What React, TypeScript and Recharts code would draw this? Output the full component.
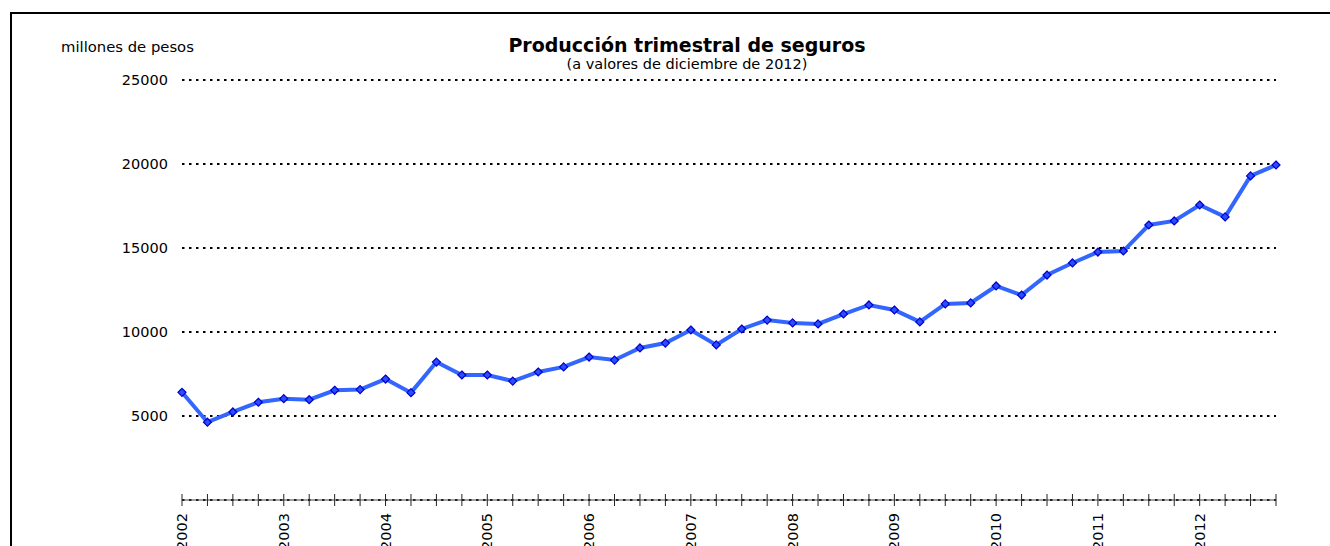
import React from 'react';
import { CartesianGrid, Line, LineChart, XAxis, YAxis } from 'recharts';

// quarters 2002 T1 .. 2012 T4
const quarters = [
  '2002 T1', '2002 T2', '2002 T3', '2002 T4',
  '2003 T1', '2003 T2', '2003 T3', '2003 T4',
  '2004 T1', '2004 T2', '2004 T3', '2004 T4',
  '2005 T1', '2005 T2', '2005 T3', '2005 T4',
  '2006 T1', '2006 T2', '2006 T3', '2006 T4',
  '2007 T1', '2007 T2', '2007 T3', '2007 T4',
  '2008 T1', '2008 T2', '2008 T3', '2008 T4',
  '2009 T1', '2009 T2', '2009 T3', '2009 T4',
  '2010 T1', '2010 T2', '2010 T3', '2010 T4',
  '2011 T1', '2011 T2', '2011 T3', '2011 T4',
  '2012 T1', '2012 T2', '2012 T3', '2012 T4',
];

// millones de pesos, a valores de diciembre de 2012
const produccion = [
  6410, 4630, 5240, 5820,
  6030, 5970, 6530, 6570,
  7200, 6390, 8210, 7440,
  7440, 7080, 7620, 7920,
  8510, 8330, 9050, 9340,
  10120, 9230, 10180, 10710,
  10540, 10480, 11070, 11610,
  11310, 10600, 11670, 11730,
  12740, 12200, 13390, 14110,
  14760, 14820, 16370, 16610,
  17560, 16850, 19290, 19940,
];

const yTicks = [5000, 10000, 15000, 20000, 25000];

const data = quarters.map((q, i) => ({ q, valor: produccion[i] }));

const FONT = '"DejaVu Sans", sans-serif';

const QuarterTick = (props: any) => {
  const { x, y, payload } = props;
  const label = String(payload.value).endsWith('T1') ? String(payload.value).slice(0, 4) : '';
  return (
    <g>
      <line x1={x} x2={x} y1={y - 6} y2={y + 6} stroke="#222" strokeWidth={1} />
      {label && (
        <text
          x={x}
          y={y + 13}
          transform={`rotate(-90, ${x}, ${y + 13})`}
          textAnchor="end"
          dy="0.35em"
          fontSize={14.5}
          fontFamily={FONT}
          fill="#000"
        >
          {label}
        </text>
      )}
    </g>
  );
};

const Diamond = (props: any) => {
  const { cx, cy } = props;
  if (cx == null || cy == null) return null;
  const r = 4;
  return (
    <polygon
      points={`${cx},${cy - r} ${cx + r},${cy} ${cx},${cy + r} ${cx - r},${cy}`}
      fill="#2a4dff"
      stroke="#0000c8"
      strokeWidth={1.2}
    />
  );
};

export default function App() {
  return (
    <div style={{ position: 'fixed', left: 0, top: 0, width: 1330, height: 546, overflow: 'hidden', background: '#fff', fontFamily: FONT }}>
      <div style={{ position: 'absolute', left: 10, top: 12, width: 1340, height: 560, border: '2px solid #000' }}>
        <LineChart width={1330} height={540} data={data} margin={{ top: 66, right: 66, left: 110, bottom: 14 }}>
          <CartesianGrid vertical={false} stroke="#000" strokeWidth={2} strokeDasharray="2.5 4.5" />
          <XAxis
            dataKey="q"
            interval={0}
            padding={{ left: 0, right: 0 }}
            height={40}
            stroke="#444"
            tickLine={false}
            tickSize={0}
            tickMargin={0}
            tick={<QuarterTick />}
          />
          <YAxis
            domain={[0, 25000]}
            ticks={yTicks}
            width={60}
            axisLine={false}
            tickLine={false}
            tickSize={0}
            tickMargin={14}
            tick={{ fill: '#000', fontSize: 14.5, fontFamily: FONT }}
          />
          <Line
            dataKey="valor"
            stroke="#3366ff"
            strokeWidth={4}
            dot={<Diamond />}
            activeDot={false}
            isAnimationActive={false}
          />
        </LineChart>
      </div>
      <div style={{ position: 'absolute', left: 61, top: 40, fontSize: 14.8, lineHeight: '14.8px', color: '#000' }}>
        millones de pesos
      </div>
      <div style={{ position: 'absolute', left: 387, width: 600, top: 36, textAlign: 'center', fontSize: 19, lineHeight: '19px', fontWeight: 'bold', color: '#000' }}>
        Producción trimestral de seguros
      </div>
      <div style={{ position: 'absolute', left: 387, width: 600, top: 56.5, textAlign: 'center', fontSize: 14.5, lineHeight: '14.5px', color: '#000' }}>
        (a valores de diciembre de 2012)
      </div>
    </div>
  );
}
